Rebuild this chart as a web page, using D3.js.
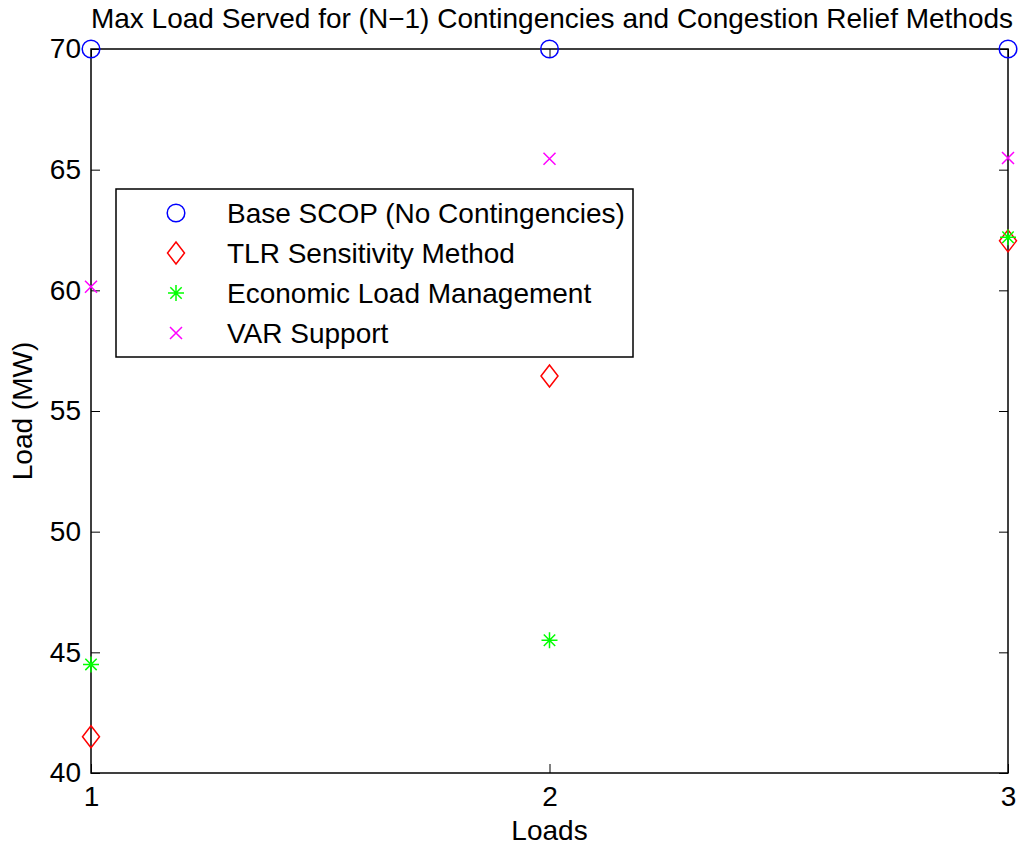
<!DOCTYPE html>
<html>
<head>
<meta charset="utf-8">
<script src="https://cdn.jsdelivr.net/npm/d3@7"></script>
<style>
  body { margin: 0; background: #fff; }
  svg { font-family: "Liberation Sans", Arial, sans-serif; }
</style>
</head>
<body>
<svg id="chart" width="1023" height="848"></svg>
<script>
// data
const loads = [1, 2, 3];
const baseScop = [70, 70, 70];
const tlr = [41.5, 56.45, 62.05];
const econLoad = [44.5, 45.5, 62.2];
const varSupport = [60.15, 65.45, 65.48];
const xTicks = [1, 2, 3];
const yTicks = [40, 45, 50, 55, 60, 65, 70];

const series = [
  { name: "Base SCOP (No Contingencies)", values: baseScop, color: "#0000ff", shape: "circle" },
  { name: "TLR Sensitivity Method", values: tlr, color: "#ff0000", shape: "diamond" },
  { name: "Economic Load Management", values: econLoad, color: "#00ff00", shape: "star" },
  { name: "VAR Support", values: varSupport, color: "#ff00ff", shape: "x" }
];

var margin = { top: 49, right: 15, bottom: 75, left: 91 },
  width = 1023 - margin.left - margin.right,
  height = 848 - margin.top - margin.bottom;

const svg = d3.select("#chart");
const g = svg.append("g").attr("transform", `translate(${margin.left},${margin.top})`);

let x = d3.scaleLinear().domain([1, 3]).range([0, width]);
let y = d3.scaleLinear().domain([40, 70]).range([height, 0]);

// ticks, inward on all four sides
const tl = 9;
const fs = 28;
g.append("g").attr("transform", `translate(0,${height})`)
  .call(d3.axisBottom(x).tickValues(xTicks).tickFormat(d3.format("d")).tickSizeInner(-tl).tickSizeOuter(0).tickPadding(13));
g.append("g")
  .call(d3.axisTop(x).tickValues(xTicks).tickFormat("").tickSizeInner(-tl).tickSizeOuter(0));
g.append("g")
  .call(d3.axisLeft(y).tickValues(yTicks).tickFormat(d3.format("d")).tickSizeInner(-tl).tickSizeOuter(0).tickPadding(10));
g.append("g").attr("transform", `translate(${width},0)`)
  .call(d3.axisRight(y).tickValues(yTicks).tickFormat("").tickSizeInner(-tl).tickSizeOuter(0));

g.selectAll(".domain").remove();
g.selectAll(".tick line").attr("stroke", "#000").attr("stroke-width", 1);
g.selectAll(".tick text").attr("fill", "#000").style("font-size", fs + "px").style("font-family", "Liberation Sans, Arial, sans-serif");

g.append("rect").attr("width", width).attr("height", height)
  .attr("fill", "none").attr("stroke", "#000").attr("stroke-width", 1.5);

function marker(sel, shape, color) {
  if (shape == "circle") {
    sel.append("circle").attr("r", 8.8).attr("fill", "none").attr("stroke", color).attr("stroke-width", 1.5);
  } else if (shape == "diamond") {
    sel.append("path").attr("d", "M0,-11L8.5,0L0,11L-8.5,0Z").attr("fill", "none").attr("stroke", color).attr("stroke-width", 1.5);
  } else if (shape == "star") {
    sel.append("path").attr("d", "M-8,0L8,0M0,-8L0,8M-5.7,-5.7L5.7,5.7M-5.7,5.7L5.7,-5.7").attr("stroke", color).attr("stroke-width", 1.5);
  } else {
    sel.append("path").attr("d", "M-6,-6L6,6M-6,6L6,-6").attr("stroke", color).attr("stroke-width", 1.5);
  }
}

series.forEach((s) => {
  g.selectAll(null)
    .data(s.values.map((v, i) => ({ x: loads[i], y: v })))
    .join("g")
    .attr("transform", (d) => `translate(${x(d.x)},${y(d.y)})`)
    .each(function () { marker(d3.select(this), s.shape, s.color); });
});

// legend
const legend = svg.append("g").attr("transform", "translate(116,189)");
legend.append("rect").attr("width", 517).attr("height", 168)
  .attr("fill", "#fff").attr("stroke", "#000").attr("stroke-width", 1.5);
series.forEach((s, i) => {
  const row = legend.append("g").attr("transform", `translate(0,${24 + i * 40})`);
  marker(row.append("g").attr("transform", "translate(60,0)"), s.shape, s.color);
  row.append("text").attr("x", 111).attr("dy", "0.35em").style("font-size", fs + "px").text(s.name);
});

// titles
svg.append("text").attr("x", 552).attr("y", 28).attr("text-anchor", "middle")
  .style("font-size", fs + "px").text("Max Load Served for (N\u22121) Contingencies and Congestion Relief Methods");
svg.append("text").attr("x", margin.left + width / 2).attr("y", 840).attr("text-anchor", "middle")
  .style("font-size", fs + "px").text("Loads");
svg.append("text").attr("transform", `translate(32,${margin.top + height / 2}) rotate(-90)`)
  .attr("text-anchor", "middle").style("font-size", fs + "px").text("Load (MW)");
</script>
</body>
</html>
